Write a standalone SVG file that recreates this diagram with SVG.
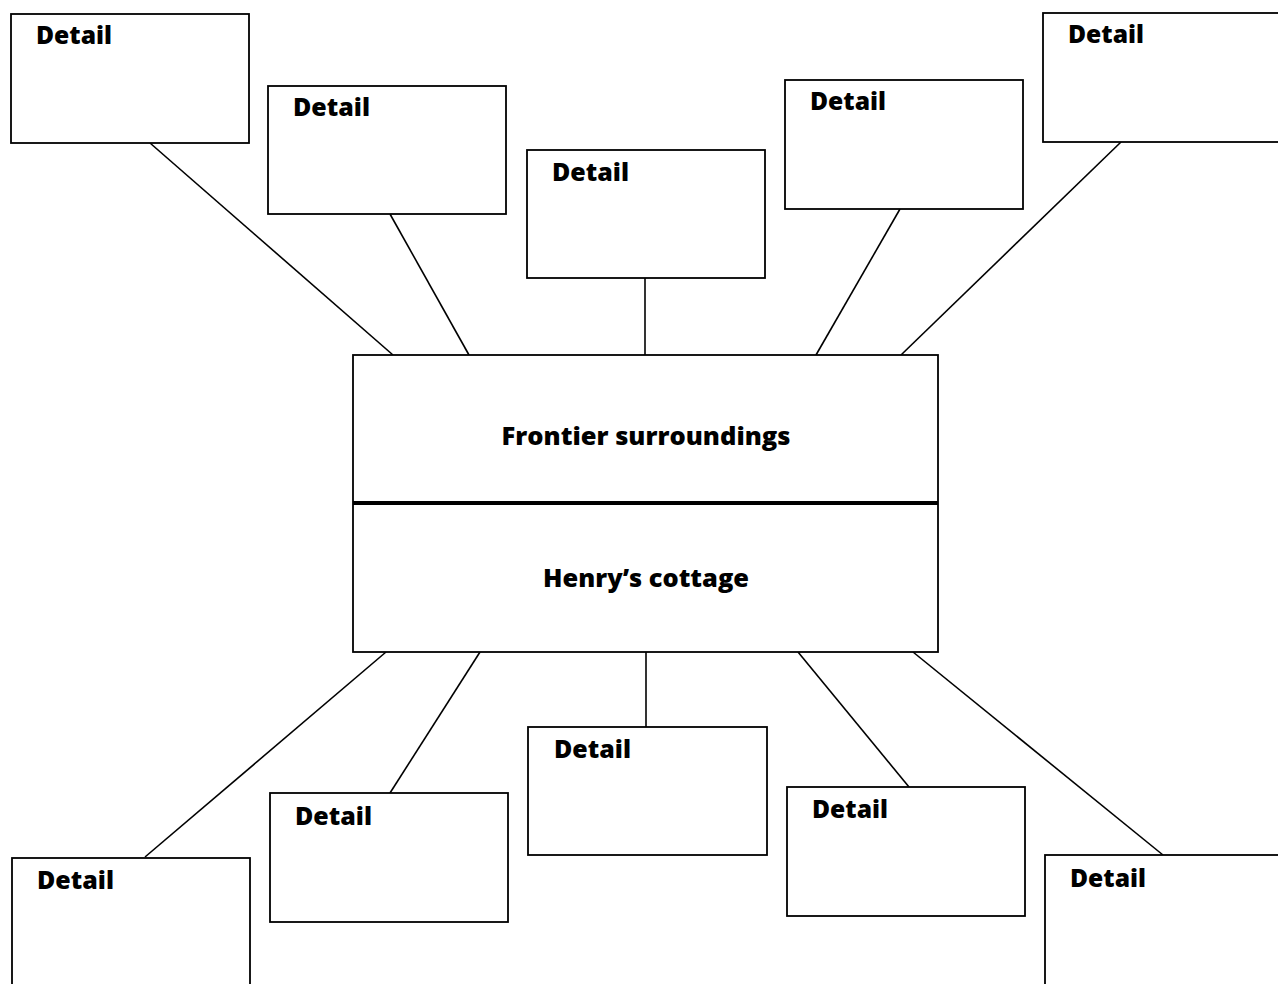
<svg xmlns="http://www.w3.org/2000/svg" width="1278" height="984" viewBox="0 0 1278 984">
<style>
.box{fill:#fff;stroke:#000;stroke-width:1.8}
.lbl{font-family:"Open Sans","Liberation Sans",sans-serif;font-weight:800;font-size:24px;fill:#000}
.ctr{font-family:"Open Sans","Liberation Sans",sans-serif;font-weight:800;font-size:25px;fill:#000;text-anchor:middle}
.con{stroke:#000;stroke-width:1.6;fill:none}
</style>
<rect width="1278" height="984" fill="#fff"/>
<g id="connectors">
<line class="con" x1="150" y1="143" x2="393" y2="355"/>
<line class="con" x1="390" y1="214" x2="469" y2="355"/>
<line class="con" x1="645" y1="278" x2="645" y2="355"/>
<line class="con" x1="900" y1="209" x2="816" y2="355"/>
<line class="con" x1="1121" y1="142" x2="901" y2="355"/>
<line class="con" x1="386" y1="652" x2="145" y2="857"/>
<line class="con" x1="480" y1="652" x2="390" y2="793"/>
<line class="con" x1="646" y1="652" x2="646" y2="727"/>
<line class="con" x1="798" y1="652" x2="909" y2="787"/>
<line class="con" x1="913" y1="652" x2="1163" y2="855"/>
</g>
<g id="center">
<rect class="box" x="353" y="355" width="585" height="297"/>
<line x1="353" y1="503" x2="938" y2="503" stroke="#000" stroke-width="4"/>
<text class="ctr" x="646" y="445" textLength="289" lengthAdjust="spacingAndGlyphs">Frontier surroundings</text>
<text class="ctr" x="646" y="587" textLength="206" lengthAdjust="spacingAndGlyphs">Henry’s cottage</text>
</g>
<g id="d1"><rect class="box" x="11" y="14" width="238" height="129"/><text class="lbl" x="36" y="44" textLength="76" lengthAdjust="spacingAndGlyphs">Detail</text></g>
<g id="d2"><rect class="box" x="268" y="86" width="238" height="128"/><text class="lbl" x="293" y="116" textLength="77" lengthAdjust="spacingAndGlyphs">Detail</text></g>
<g id="d3"><rect class="box" x="527" y="150" width="238" height="128"/><text class="lbl" x="552" y="181" textLength="77" lengthAdjust="spacingAndGlyphs">Detail</text></g>
<g id="d4"><rect class="box" x="785" y="80" width="238" height="129"/><text class="lbl" x="810" y="110" textLength="76" lengthAdjust="spacingAndGlyphs">Detail</text></g>
<g id="d5"><rect class="box" x="1043" y="13" width="240" height="129"/><text class="lbl" x="1068" y="43" textLength="76" lengthAdjust="spacingAndGlyphs">Detail</text></g>
<g id="d6"><rect class="box" x="12" y="858" width="238" height="140"/><text class="lbl" x="37" y="889" textLength="77" lengthAdjust="spacingAndGlyphs">Detail</text></g>
<g id="d7"><rect class="box" x="270" y="793" width="238" height="129"/><text class="lbl" x="295" y="825" textLength="77" lengthAdjust="spacingAndGlyphs">Detail</text></g>
<g id="d8"><rect class="box" x="528" y="727" width="239" height="128"/><text class="lbl" x="554" y="758" textLength="77" lengthAdjust="spacingAndGlyphs">Detail</text></g>
<g id="d9"><rect class="box" x="787" y="787" width="238" height="129"/><text class="lbl" x="812" y="818" textLength="76" lengthAdjust="spacingAndGlyphs">Detail</text></g>
<g id="d10"><rect class="box" x="1045" y="855" width="240" height="140"/><text class="lbl" x="1070" y="887" textLength="76" lengthAdjust="spacingAndGlyphs">Detail</text></g>
</svg>
